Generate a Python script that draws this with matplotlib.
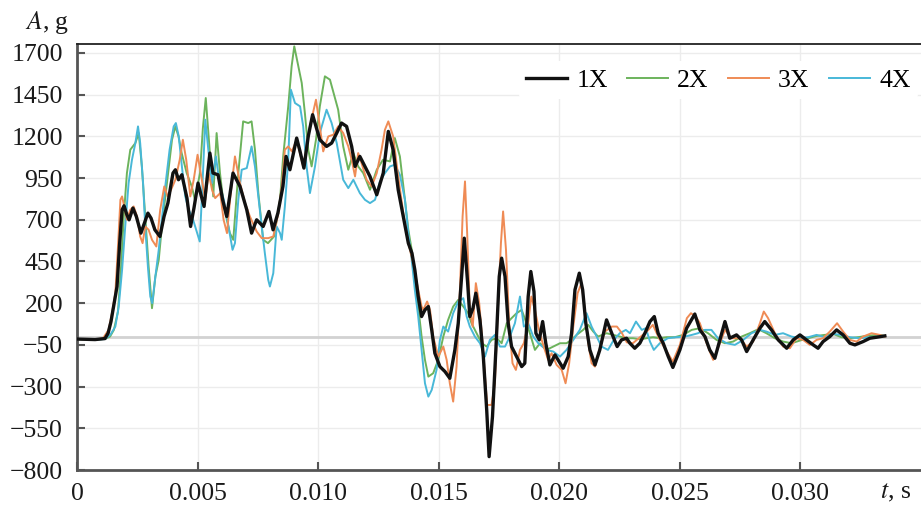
import matplotlib.pyplot as plt

plt.rcParams['font.family'] = ['Liberation Serif', 'DejaVu Serif']
plt.rcParams['mathtext.fontset'] = 'stix'

# data: time (s) and acceleration (g)
t_1x = [0, 0.00075, 0.00116, 0.00129, 0.00141, 0.00153, 0.00166, 0.00177, 0.00187, 0.00195,
        0.00207, 0.00216, 0.00232, 0.00246, 0.00265, 0.00294, 0.00307, 0.00323, 0.00344, 0.00361,
        0.00377, 0.00398, 0.00408, 0.00421, 0.00435, 0.00456, 0.00471, 0.00485, 0.00502, 0.00514,
        0.00527, 0.00551, 0.00564, 0.00585, 0.00604, 0.00621, 0.00647, 0.00676, 0.00704, 0.00724,
        0.00745, 0.00772, 0.00796, 0.00813, 0.00833, 0.00854, 0.00867, 0.00883, 0.00911, 0.00925,
        0.00941, 0.00959, 0.00977, 0.00991, 0.01007, 0.01035, 0.01056, 0.01077, 0.01097, 0.01118,
        0.01139, 0.01153, 0.01173, 0.01194, 0.01215, 0.01243, 0.01270, 0.01291, 0.01311, 0.01332,
        0.01353, 0.01374, 0.01389, 0.01401, 0.01415, 0.01429, 0.01443, 0.01457, 0.01471, 0.01484,
        0.01505, 0.01526, 0.01546, 0.01567, 0.01581, 0.01595, 0.01606, 0.01620, 0.01629, 0.01642,
        0.01654, 0.01671, 0.01685, 0.01699, 0.01709, 0.01723, 0.01737, 0.01751, 0.01761, 0.01775,
        0.01788, 0.01802, 0.01823, 0.01844, 0.01857, 0.01871, 0.01882, 0.01895, 0.01903, 0.01917,
        0.01931, 0.01944, 0.01961, 0.01982, 0.01995, 0.02016, 0.02037, 0.02051, 0.02065, 0.02083,
        0.02097, 0.02110, 0.02127, 0.02148, 0.02168, 0.02196, 0.02223, 0.02240, 0.02258, 0.02279,
        0.02293, 0.02313, 0.02334, 0.02355, 0.02376, 0.02394, 0.02410, 0.02431, 0.02452, 0.02471,
        0.02500, 0.02528, 0.02562, 0.02583, 0.02604, 0.02624, 0.02645, 0.02666, 0.02687, 0.02707,
        0.02735, 0.02756, 0.02777, 0.02804, 0.02832, 0.02852, 0.02880, 0.02908, 0.02943, 0.02970,
        0.02998, 0.03025, 0.03053, 0.03073, 0.03094, 0.03122, 0.03150, 0.03177, 0.03205, 0.03226,
        0.03260, 0.03288, 0.03316, 0.03350]
a_1x = [-15, -18, -12, 20, 90, 190, 300, 560, 760, 784,
        730, 700, 770, 720, 620, 740, 710, 640, 600, 720,
        800, 980, 1000, 940, 970, 830, 660, 770, 920, 850,
        780, 1100, 980, 970, 820, 720, 980, 900, 760, 620,
        700, 660, 750, 640, 740, 900, 1080, 1000, 1190, 1110,
        1010, 1200, 1330, 1260, 1180, 1140, 1160, 1220, 1280, 1260,
        1140, 1020, 1080, 1020, 960, 850, 980, 1230, 1120, 880,
        720, 560, 500, 400, 240, 120, 160, 180, 40, -100,
        -180, -210, -250, -80, 80, 360, 590, 320, 120, 170,
        260, 100, -120, -440, -720, -480, -80, 360, 470, 360,
        80, -60, -120, -180, -160, 240, 390, 270, 20, -20,
        90, -40, -170, -110, -140, -190, -120, 20, 280, 380,
        280, 80, -80, -170, -80, 100, 0, -60, -20, -10,
        -40, -70, -40, 20, 90, 120, 20, -40, -120, -185,
        -80, 50, 135, 40, 0, -80, -130, -20, 90, -10,
        10, -20, -90, -20, 50, 90, 40, -20, -70, -20,
        10, -20, -50, -70, -30, 0, 40, 10, -40, -50,
        -30, -10, -4, 4]

t_2x = [0, 0.00075, 0.00116, 0.00137, 0.00153, 0.00170, 0.00182, 0.00194, 0.00207, 0.00221,
        0.00242, 0.00256, 0.00269, 0.00283, 0.00297, 0.00311, 0.00325, 0.00339, 0.00352, 0.00373,
        0.00394, 0.00408, 0.00421, 0.00434, 0.00455, 0.00476, 0.00489, 0.00510, 0.00522, 0.00534,
        0.00549, 0.00565, 0.00579, 0.00593, 0.00609, 0.00634, 0.00648, 0.00669, 0.00689, 0.00710,
        0.00724, 0.00738, 0.00752, 0.00772, 0.00792, 0.00817, 0.00842, 0.00855, 0.00876, 0.00890,
        0.00901, 0.00918, 0.00932, 0.00945, 0.00959, 0.00973, 0.00991, 0.01007, 0.01028, 0.01049,
        0.01066, 0.01083, 0.01104, 0.01125, 0.01146, 0.01166, 0.01187, 0.01215, 0.01243, 0.01269,
        0.01298, 0.01318, 0.01339, 0.01360, 0.01374, 0.01388, 0.01401, 0.01415, 0.01429, 0.01443,
        0.01457, 0.01477, 0.01498, 0.01519, 0.01539, 0.01560, 0.01581, 0.01602, 0.01622, 0.01636,
        0.01657, 0.01678, 0.01699, 0.01719, 0.01740, 0.01761, 0.01782, 0.01802, 0.01823, 0.01844,
        0.01864, 0.01878, 0.01899, 0.01920, 0.01947, 0.01975, 0.02003, 0.02030, 0.02051, 0.02072,
        0.02099, 0.02120, 0.02141, 0.02161, 0.02196, 0.02223, 0.02251, 0.02279, 0.02306, 0.02334,
        0.02362, 0.02389, 0.02417, 0.02445, 0.02479, 0.02514, 0.02549, 0.02583, 0.02617, 0.02652,
        0.02687, 0.02721, 0.02756, 0.02790, 0.02825, 0.02859, 0.02894, 0.02928, 0.02963, 0.02998,
        0.03032, 0.03067, 0.03101, 0.03136, 0.03170, 0.03205, 0.03239, 0.03274, 0.03316, 0.03350]
a_2x = [-15, -18, -14, 0, 40, 150, 400, 720, 980, 1120,
        1160, 1220, 1020, 720, 420, 170, 360, 460, 660, 920,
        1180, 1260, 1200, 1100, 980, 900, 820, 980, 1250, 1430,
        1140, 840, 1220, 980, 780, 620, 580, 980, 1290, 1280,
        1290, 1120, 860, 580, 560, 600, 820, 1080, 1380, 1620,
        1740, 1620, 1520, 1340, 1120, 1020, 1180, 1380, 1560, 1540,
        1450, 1360, 1140, 1000, 1100, 1020, 980, 880, 1000, 1060,
        1050, 1190, 1080, 820, 640, 520, 360, 180, 0, -140,
        -240, -220, -140, 0, 100, 180, 220, 180, 140, 80,
        20, -40, -60, -20, -10, -40, 80, 110, 140, 160,
        80, 20, -80, -40, -80, -60, -40, -40, -20, 10,
        40, 70, 30, 0, 20, 10, 0, -10, -10, -16,
        -10, -4, -10, -4, -4, 10, 40, 50, 20, -20,
        -40, -30, 0, 20, 44, 20, -10, -30, -40, -24,
        -10, 4, 10, 16, -4, -10, -4, 4, 10, 4]

t_3x = [0, 0.00075, 0.00108, 0.00131, 0.00145, 0.00159, 0.00170, 0.00180, 0.00187, 0.00196,
        0.00207, 0.00221, 0.00235, 0.00249, 0.00262, 0.00272, 0.00283, 0.00297, 0.00311, 0.00329,
        0.00345, 0.00362, 0.00376, 0.00390, 0.00408, 0.00426, 0.00439, 0.00453, 0.00470, 0.00484,
        0.00500, 0.00518, 0.00532, 0.00546, 0.00560, 0.00573, 0.00594, 0.00608, 0.00622, 0.00636,
        0.00655, 0.00676, 0.00697, 0.00717, 0.00745, 0.00766, 0.00793, 0.00814, 0.00835, 0.00849,
        0.00862, 0.00876, 0.00891, 0.00911, 0.00938, 0.00966, 0.00991, 0.01005, 0.01021, 0.01042,
        0.01063, 0.01083, 0.01104, 0.01125, 0.01139, 0.01153, 0.01166, 0.01180, 0.01201, 0.01222,
        0.01243, 0.01263, 0.01277, 0.01291, 0.01311, 0.01332, 0.01353, 0.01374, 0.01394, 0.01415,
        0.01429, 0.01436, 0.01452, 0.01464, 0.01477, 0.01498, 0.01519, 0.01533, 0.01546, 0.01560,
        0.01574, 0.01588, 0.01599, 0.01609, 0.01618, 0.01629, 0.01641, 0.01654, 0.01668, 0.01682,
        0.01692, 0.01701, 0.01719, 0.01733, 0.01747, 0.01758, 0.01767, 0.01779, 0.01792, 0.01806,
        0.01820, 0.01837, 0.01853, 0.01871, 0.01884, 0.01899, 0.01913, 0.01927, 0.01940, 0.01954,
        0.01968, 0.01989, 0.02010, 0.02026, 0.02041, 0.02058, 0.02076, 0.02092, 0.02106, 0.02120,
        0.02134, 0.02148, 0.02168, 0.02189, 0.02218, 0.02239, 0.02260, 0.02280, 0.02305, 0.02334,
        0.02363, 0.02388, 0.02417, 0.02442, 0.02471, 0.02500, 0.02529, 0.02546, 0.02566, 0.02583,
        0.02611, 0.02638, 0.02666, 0.02687, 0.02714, 0.02749, 0.02777, 0.02804, 0.02832, 0.02848,
        0.02866, 0.02894, 0.02928, 0.02956, 0.02984, 0.03011, 0.03039, 0.03067, 0.03094, 0.03122,
        0.03152, 0.03177, 0.03205, 0.03233, 0.03260, 0.03295, 0.03329, 0.03350]
a_3x = [-15, -18, -10, 40, 140, 260, 540, 820, 840, 780,
        700, 760, 780, 720, 600, 560, 660, 640, 580, 540,
        760, 900, 840, 880, 940, 1060, 1180, 1060, 840, 940,
        1090, 940, 820, 980, 880, 830, 860, 700, 620, 840,
        1080, 920, 800, 720, 630, 590, 590, 600, 740, 900,
        1120, 1140, 1110, 1180, 1020, 1260, 1420, 1280, 1110, 1200,
        1210, 1260, 1220, 1140, 1060, 960, 1100, 1040, 940, 900,
        980, 1120, 1240, 1290, 1200, 960, 740, 560, 440, 280,
        180, 160, 210, 160, 0, -120, -60, -140, -280, -390,
        -180, 280, 720, 930, 620, 160, 60, 320, 200, -40,
        -240, -410, -410, -280, 220, 560, 750, 520, 80, -160,
        -200, -80, -40, 80, 240, 160, 60, -20, -80, -140,
        -100, -170, -200, -280, -160, 60, 260, 320, 160, -40,
        -160, -180, -70, 30, 60, 60, 20, -35, -40, -5,
        30, 70, -20, -80, -150, -50, 110, 140, 120, 80,
        -40, -140, -40, 40, -10, -10, -60, -30, 80, 150,
        110, 20, -60, -70, -10, -20, -50, -20, -10, 30,
        80, 30, -20, -30, 0, 20, 10, 0]

t_4x = [0, 0.00075, 0.00116, 0.00138, 0.00159, 0.00173, 0.00187, 0.00200, 0.00214, 0.00228,
        0.00242, 0.00253, 0.00262, 0.00274, 0.00283, 0.00294, 0.00304, 0.00312, 0.00325, 0.00339,
        0.00352, 0.00366, 0.00384, 0.00401, 0.00410, 0.00422, 0.00435, 0.00449, 0.00463, 0.00477,
        0.00490, 0.00509, 0.00520, 0.00532, 0.00546, 0.00560, 0.00576, 0.00593, 0.00609, 0.00626,
        0.00645, 0.00655, 0.00669, 0.00683, 0.00704, 0.00724, 0.00738, 0.00752, 0.00766, 0.00779,
        0.00793, 0.00800, 0.00814, 0.00828, 0.00842, 0.00849, 0.00862, 0.00876, 0.00887, 0.00904,
        0.00925, 0.00938, 0.00952, 0.00966, 0.00987, 0.01007, 0.01035, 0.01056, 0.01077, 0.01104,
        0.01125, 0.01146, 0.01173, 0.01194, 0.01215, 0.01236, 0.01256, 0.01277, 0.01298, 0.01318,
        0.01339, 0.01360, 0.01374, 0.01388, 0.01401, 0.01415, 0.01429, 0.01443, 0.01457, 0.01471,
        0.01491, 0.01505, 0.01519, 0.01539, 0.01560, 0.01581, 0.01602, 0.01616, 0.01629, 0.01650,
        0.01671, 0.01692, 0.01712, 0.01733, 0.01754, 0.01775, 0.01795, 0.01816, 0.01837, 0.01853,
        0.01871, 0.01892, 0.01913, 0.01947, 0.01975, 0.02003, 0.02030, 0.02058, 0.02085, 0.02113,
        0.02134, 0.02155, 0.02175, 0.02202, 0.02226, 0.02251, 0.02276, 0.02293, 0.02318, 0.02342,
        0.02359, 0.02376, 0.02392, 0.02417, 0.02450, 0.02483, 0.02521, 0.02550, 0.02575, 0.02604,
        0.02631, 0.02658, 0.02694, 0.02728, 0.02763, 0.02797, 0.02832, 0.02859, 0.02894, 0.02928,
        0.02963, 0.02998, 0.03032, 0.03067, 0.03101, 0.03136, 0.03170, 0.03205, 0.03246, 0.03288,
        0.03350]
a_4x = [-15, -18, -15, 10, 60, 180, 400, 660, 920, 1060,
        1160, 1260, 1160, 920, 660, 420, 240, 200, 360, 520,
        700, 900, 1120, 1260, 1280, 1200, 1020, 840, 760, 720,
        660, 570, 900, 1300, 1100, 920, 1080, 900, 820, 680,
        520, 560, 820, 1000, 1010, 1140, 1020, 840, 660, 500,
        340, 300, 380, 660, 620, 580, 780, 1060, 1480, 1400,
        1380, 1260, 1020, 860, 1020, 1220, 1360, 1280, 1160, 940,
        890, 940, 860, 820, 800, 820, 930, 980, 1020, 1030,
        970, 820, 620, 460, 280, 120, -80, -280, -360, -320,
        -200, -20, 60, 30, 140, 210, 230, 120, 60, 0,
        -40, -120, -20, 10, -60, -60, 0, 80, 240, 60,
        80, 0, -40, -80, -90, -120, -80, -20, 40, 140,
        60, 0, -60, -80, -20, 20, 40, 20, 90, 40,
        50, -30, -80, -40, -10, -4, 0, 10, 20, 40,
        40, -10, -40, -50, -20, 20, 40, 30, 10, 20,
        0, -10, -4, 10, -4, 16, 10, -4, -10, -4,
        4]

labels = ['1X', '2X', '3X', '4X']
colors = ['#111111', '#6cb35c', '#ef8b55', '#48b8d8']
y_ticks = [-800, -550, -300, -50, 200, 450, 700, 950, 1200, 1450, 1700]
x_ticks = [0, 0.005, 0.010, 0.015, 0.020, 0.025, 0.030]
x_ticklabels = ['0', '0.005', '0.010', '0.015', '0.020', '0.025', '0.030']

fig = plt.figure(figsize=(9.21, 5.05), dpi=100)
ax = fig.add_axes([0.0836, 0.0693, 0.9164, 0.8436])

ax.axhline(0, color='#d2d2d2', lw=2.0, zorder=1)

series = [(t_1x, a_1x), (t_2x, a_2x), (t_3x, a_3x), (t_4x, a_4x)]
widths = [2.4, 1.4, 1.4, 1.4]
zorders = [5, 2, 4, 3]
for (t, a), lab, c, lw, z in zip(series, labels, colors, widths, zorders):
    ax.plot(t, a, color=c, lw=lw, label=lab, zorder=z, solid_joinstyle='round')

ax.set_xlim(0, 0.035)
ax.set_ylim(-800, 1754)
ax.set_xticks(x_ticks)
ax.set_xticklabels(x_ticklabels)
ax.set_yticks(y_ticks)
ax.grid(True, color='#ececec', lw=1.0, zorder=0)
ax.set_axisbelow(True)

ax.tick_params(axis='both', direction='in', length=6, width=1.5, color='#555555',
               labelsize=18.5, labelcolor='#1a1a1a')
ax.tick_params(axis='x', pad=9)
ax.tick_params(axis='y', pad=10)

ax.spines['right'].set_visible(False)
ax.spines['top'].set_color('#222222')
ax.spines['top'].set_linewidth(1.3)
for s in ('left', 'bottom'):
    ax.spines[s].set_color('#555555')
    ax.spines[s].set_linewidth(2.0)

fig.text(0.027, 0.956, r'$A$, g', fontsize=18.5, va='center', ha='left', color='#1a1a1a')
fig.text(0.955, 0.024, r'$t$, s', fontsize=18.5, va='center', ha='left', color='#1a1a1a')

leg = ax.legend(loc='upper right', bbox_to_anchor=(1.012, 0.99), ncol=4, fontsize=18.5,
                frameon=True, handlelength=1.6, handletextpad=0.35, columnspacing=0.75,
                borderpad=0.3)
leg.get_frame().set_edgecolor('none')
leg.get_frame().set_facecolor('white')
leg.get_frame().set_alpha(1)

fig.savefig('out.png', dpi=100)
